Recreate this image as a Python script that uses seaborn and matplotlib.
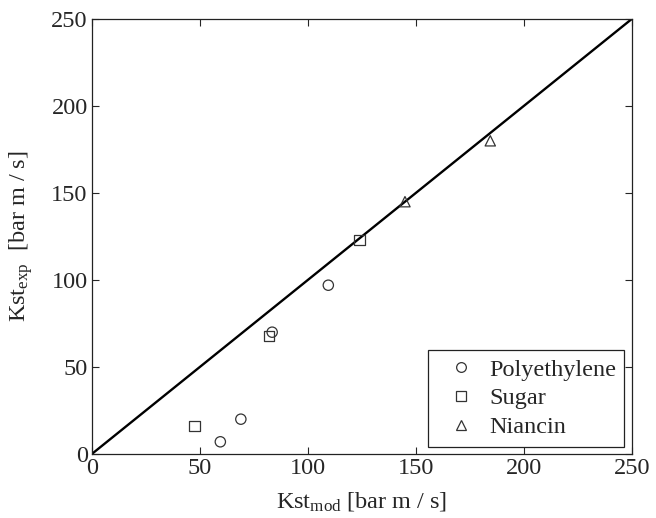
import pandas as pd
import seaborn as sns
from matplotlib import pyplot as plt
from matplotlib.lines import Line2D

# data
materials = ['Polyethylene', 'Polyethylene', 'Polyethylene', 'Polyethylene',
             'Sugar', 'Sugar', 'Sugar',
             'Niancin', 'Niancin']
kst_mod = [59.5, 69, 83.5, 109.5, 47.5, 82, 124, 145, 184.5]
kst_exp = [7, 20, 70, 97, 16, 68, 123, 145, 180]
parity_x = [0, 250]
parity_y = [0, 250]
marker_map = {'Polyethylene': 'o', 'Sugar': 's', 'Niancin': '^'}

df = pd.DataFrame({'Material': materials, 'Kst_mod': kst_mod, 'Kst_exp': kst_exp})

sns.set_style('ticks')
plt.rcParams['font.family'] = ['Liberation Serif', 'DejaVu Serif']
plt.rcParams['mathtext.fontset'] = 'custom'
plt.rcParams['mathtext.rm'] = 'Liberation Serif'
plt.rcParams['mathtext.it'] = 'Liberation Serif'

fig = plt.figure(figsize=(6.56, 5.18), dpi=100)
ax = fig.add_axes([0.140, 0.1236, 0.823, 0.8397])

sns.lineplot(x=parity_x, y=parity_y, color='black', lw=1.7, ax=ax)
for name, mk in marker_map.items():
    sub = df[df['Material'] == name]
    ax.scatter(sub['Kst_mod'], sub['Kst_exp'], marker=mk, s=55,
               facecolors='none', edgecolors='#333333', linewidths=0.9, zorder=3)

ax.set_xlim(0, 250)
ax.set_ylim(0, 250)
ax.set_xticks([0, 50, 100, 150, 200, 250])
ax.set_yticks([0, 50, 100, 150, 200, 250])
ax.tick_params(direction='in', top=True, right=True, labelsize=17.5, length=5, width=0.8, pad=3)
for sp in ax.spines.values():
    sp.set_linewidth(0.9)
    sp.set_color('#222222')

ax.set_xlabel(r'Kst$_{\mathrm{mod}}$ [bar m / s]', fontsize=17.5, labelpad=8)
ax.set_ylabel(r'Kst$_{\mathrm{exp}}$  [bar m / s]', fontsize=17.5, labelpad=12)

handles = [Line2D([], [], marker=mk, ls='none', mfc='none', mec='#333333', ms=7, mew=0.9)
           for mk in marker_map.values()]
leg = ax.legend(handles, list(marker_map.keys()), loc='lower right', fontsize=17.5,
                frameon=True, fancybox=False, edgecolor='#222222', framealpha=1,
                borderaxespad=0.3, handlelength=2.0, handletextpad=0.15,
                labelspacing=0.28, borderpad=0.35)
leg.get_frame().set_linewidth(0.9)

fig.savefig('out.png', dpi=100)
